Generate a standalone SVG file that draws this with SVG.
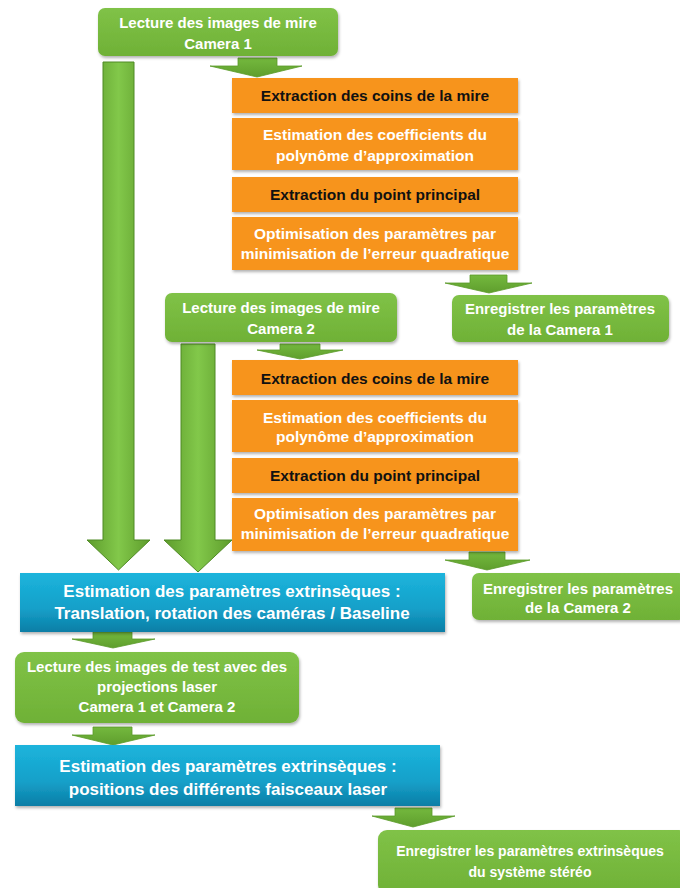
<svg xmlns="http://www.w3.org/2000/svg" width="680" height="888" viewBox="0 0 680 888">
<defs>
<linearGradient id="gGreen" x1="0" y1="0" x2="0" y2="1"><stop offset="0" stop-color="#80c247"/><stop offset="1" stop-color="#6fb136"/></linearGradient>
<linearGradient id="gBlue" x1="0" y1="0" x2="0" y2="1"><stop offset="0" stop-color="#1cb4dc"/><stop offset="0.6" stop-color="#15a0c9"/><stop offset="1" stop-color="#0c7ea6"/></linearGradient>
<linearGradient id="gArrow" x1="0" y1="0" x2="1" y2="0"><stop offset="0" stop-color="#5e9c2c"/><stop offset="0.5" stop-color="#82c84a"/><stop offset="1" stop-color="#5e9c2c"/></linearGradient>
<linearGradient id="gArrowV" x1="0" y1="0" x2="0" y2="1"><stop offset="0" stop-color="#74b93e"/><stop offset="1" stop-color="#5f9e2d"/></linearGradient>
<filter id="sh" x="-10%" y="-10%" width="120%" height="130%"><feDropShadow dx="1" dy="2" stdDeviation="1.5" flood-color="#000" flood-opacity="0.3"/></filter>
</defs>
<style>
.g{fill:url(#gGreen);filter:url(#sh)}
.o{fill:#f7941e;filter:url(#sh)}
.b{fill:url(#gBlue);filter:url(#sh)}
.ar{fill:url(#gArrowV);stroke:#5a9a2a;stroke-width:0.8}
.big{fill:url(#gArrow);stroke:#4f8a24;stroke-width:1}
text{font-family:"Liberation Sans",Arial,sans-serif;font-weight:bold;text-anchor:middle;font-size:15px}
.w{fill:#fff}
.k{fill:#111}
.O{font-size:15.5px}
.L{font-size:17px}
.S{font-size:14px}
</style>
<g id="connectors">
<polygon class="big" points="103,62 134,62 134,540 150,540 118.5,570 87,540 103,540"/>
<polygon class="big" points="181,344 215,344 215,540 232,540 198,572 164,540 181,540"/>
<polygon class="ar" points="238,58 277,58 277,66 302,66 257,77 210,66 238,66"/>
<polygon class="ar" points="470,275 507,275 507,283 532,283 489,293 445,283 470,283"/>
<polygon class="ar" points="280,344 320,344 320,350 343,350 300,359 257,350 280,350"/>
<polygon class="ar" points="469,552 505,552 505,560 530,560 487,570 445,560 469,560"/>
<polygon class="ar" points="93,632 132,632 132,639 155,639 113,648 72,639 93,639"/>
<polygon class="ar" points="93,727 132,727 132,735 155,735 113,745 72,735 93,735"/>
<polygon class="ar" points="395,808 432,808 432,816 455,816 413,827 372,816 395,816"/>
</g>
<g id="n1"><rect class="g" x="98" y="8" width="240" height="48" rx="7"/><text class="w" x="218" y="28">Lecture des images de mire</text><text class="w" x="218" y="49">Camera 1</text></g>
<g id="o1a"><rect class="o" x="232" y="78" width="286" height="35"/><text class="k O" x="375" y="101">Extraction des coins de la mire</text></g>
<g id="o1b"><rect class="o" x="232" y="118" width="286" height="52"/><text class="w O" x="375" y="140">Estimation des coefficients du</text><text class="w O" x="375" y="161">polynôme d’approximation</text></g>
<g id="o1c"><rect class="o" x="232" y="177" width="286" height="35"/><text class="k O" x="375" y="200">Extraction du point principal</text></g>
<g id="o1d"><rect class="o" x="232" y="217" width="286" height="53"/><text class="w O" x="375" y="239">Optimisation des paramètres par</text><text class="w O" x="375" y="259">minimisation de l’erreur quadratique</text></g>
<g id="r1"><rect class="g" x="452" y="295" width="217" height="47" rx="7"/><text class="w" x="560" y="314">Enregistrer les paramètres</text><text class="w" x="560" y="335">de la Camera 1</text></g>
<g id="n2"><rect class="g" x="165" y="293" width="232" height="49" rx="7"/><text class="w" x="281" y="313">Lecture des images de mire</text><text class="w" x="281" y="334">Camera 2</text></g>
<g id="o2a"><rect class="o" x="232" y="360" width="286" height="35"/><text class="k O" x="375" y="384">Extraction des coins de la mire</text></g>
<g id="o2b"><rect class="o" x="232" y="400" width="286" height="52"/><text class="w O" x="375" y="423">Estimation des coefficients du</text><text class="w O" x="375" y="442">polynôme d’approximation</text></g>
<g id="o2c"><rect class="o" x="232" y="458" width="286" height="35"/><text class="k O" x="375" y="481">Extraction du point principal</text></g>
<g id="o2d"><rect class="o" x="232" y="498" width="286" height="53"/><text class="w O" x="375" y="519">Optimisation des paramètres par</text><text class="w O" x="375" y="539">minimisation de l’erreur quadratique</text></g>
<g id="r2"><rect class="g" x="472" y="573" width="214" height="47" rx="7"/><text class="w" x="578" y="594">Enregistrer les paramètres</text><text class="w" x="578" y="613">de la Camera 2</text></g>
<g id="b1"><rect class="b" x="20" y="573" width="425" height="59"/><text class="w L" x="232" y="597">Estimation des paramètres extrinsèques :</text><text class="w L" x="232" y="619">Translation, rotation des caméras / Baseline</text></g>
<g id="n3"><rect class="g" x="15" y="652" width="284" height="71" rx="9"/><text class="w" x="157" y="672">Lecture des images de test avec des</text><text class="w" x="157" y="692">projections laser</text><text class="w" x="157" y="712">Camera 1 et Camera 2</text></g>
<g id="b2"><rect class="b" x="15" y="745" width="425" height="61"/><text class="w L" x="228" y="772">Estimation des paramètres extrinsèques :</text><text class="w L" x="228" y="795">positions des différents faisceaux laser</text></g>
<g id="r3"><rect class="g" x="378" y="830" width="310" height="64" rx="9"/><text class="w S" x="530" y="856">Enregistrer les paramètres extrinsèques</text><text class="w S" x="530" y="877">du système stéréo</text></g>
</svg>
